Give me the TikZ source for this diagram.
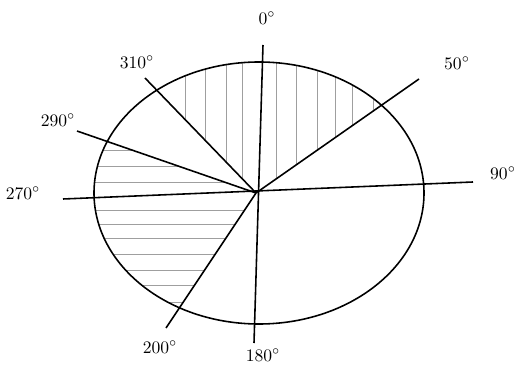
\documentclass[tikz,border=0pt]{standalone}
\usepackage{tikz}

\begin{document}
\begin{tikzpicture}[line width=0.9pt,
  hatch/.style={gray!75,line width=0.45pt},
  lbl/.style={font=\normalsize,inner sep=1pt}]
  \useasboundingbox (0,0) rectangle (10.42,7.30);
  \coordinate (O) at (5.12,3.44);
  \coordinate (a0) at (5.26,6.40);
  \coordinate (a50) at (8.38,5.72);
  \coordinate (a90) at (9.46,3.66);
  \coordinate (a180) at (5.08,0.44);
  \coordinate (a200) at (3.32,0.74);
  \coordinate (a270) at (1.26,3.32);
  \coordinate (a290) at (1.54,4.68);
  \coordinate (a310) at (2.90,5.74);
  % hatched sectors
  \begin{scope}
    \clip (5.18,3.44) ellipse (3.30 and 2.62);
    \begin{scope}
      \clip (O) -- (a310) -- (2.90,6.8) -- (8.38,6.8) -- (a50) -- cycle;
      \foreach \x in {3.70,4.10,4.52,4.84,5.52,5.92,6.34,6.70,7.04,7.46}
        \draw[hatch] (\x,1) -- (\x,6.5);
    \end{scope}
    \begin{scope}
      \clip (O) -- (a290) -- (1.0,4.68) -- (1.0,0.74) -- (a200) -- cycle;
      \foreach \y in {4.30,3.98,3.66,3.10,2.82,2.54,2.22,1.90,1.60,1.26}
        \draw[hatch] (1,\y) -- (6,\y);
    \end{scope}
  \end{scope}
  \draw (5.18,3.44) ellipse (3.30 and 2.62);
  \draw (a0) -- (a180);
  \draw (a270) -- (a90);
  \draw (O) -- (a50);
  \draw (O) -- (a200);
  \draw (O) -- (a290);
  \draw (O) -- (a310);
  % labels
  \node[lbl] (l0) at (5.34,6.94) {$0^\circ$};
  \node[lbl] (l50) at (9.14,6.04) {$50^\circ$};
  \node[lbl] (l90) at (10.06,3.84) {$90^\circ$};
  \node[lbl] (l180) at (5.26,0.20) {$180^\circ$};
  \node[lbl] (l200) at (3.20,0.36) {$200^\circ$};
  \node[lbl] (l270) at (0.46,3.44) {$270^\circ$};
  \node[lbl] (l290) at (1.16,4.90) {$290^\circ$};
  \node[lbl] (l310) at (2.74,6.06) {$310^\circ$};
\end{tikzpicture}
\end{document}
